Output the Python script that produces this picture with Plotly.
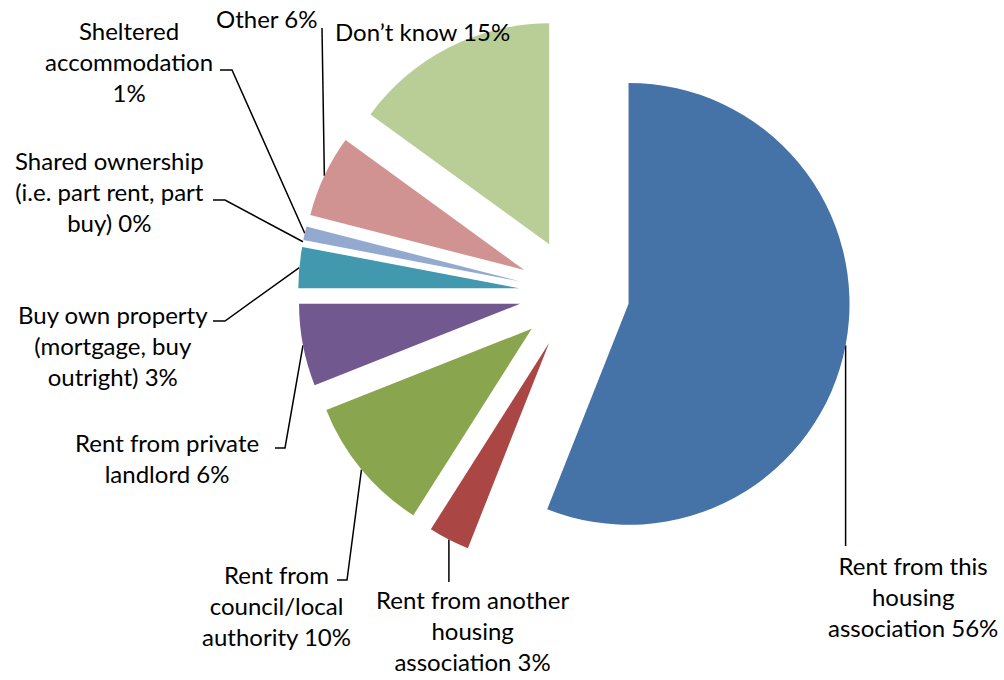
import math
import plotly.graph_objects as go

# Survey answers, clockwise from 12 o'clock
categories = [
    "Rent from this housing association",
    "Rent from another housing association",
    "Rent from council/local authority",
    "Rent from private landlord",
    "Buy own property (mortgage, buy outright)",
    "Shared ownership (i.e. part rent, part buy)",
    "Sheltered accommodation",
    "Other",
    "Don’t know",
]
percentages = [56, 3, 10, 6, 3, 0, 1, 6, 15]

# Label text broken into lines (percentage is appended to the last line)
label_lines = [
    ["Rent from this", "housing", "association"],
    ["Rent from another", "housing", "association"],
    ["Rent from", "council/local", "authority"],
    ["Rent from private", "landlord"],
    ["Buy own property", "(mortgage, buy", "outright)"],
    ["Shared ownership", "(i.e. part rent, part", "buy)"],
    ["Sheltered", "accommodation", ""],
    ["Other"],
    ["Don’t know"],
]

colors = ["#4572A7", "#AA4643", "#89A54E", "#71588F", "#4198AF",
          "#DB843D", "#93A9CF", "#D19392", "#B9CD96"]

# Label placement (pixel centre of each text block) and leader-line bends
label_pos = [(913, 596), (472, 630), (276, 605), (167, 458), (113, 345),
             (109, 191), (129, 61), (266, 18), (422, 31)]
leader_bends = [
    [(None, 546)],
    [(None, 582)],
    [(347, 580), (337, 580)],
    [(285, 448), (275, 448)],
    [(225, 321), (213, 321)],
    [(225, 200), (213, 200)],
    [(232, 70), (220, 70)],
    [(322, 28)],
    [],
]

W, H = 1004, 680
PULL = 0.25
DOM_X = [0.2969, 0.8471]
DOM_Y = [0.1621, 0.9746]

fig = go.Figure()
fig.add_trace(go.Pie(
    labels=categories,
    values=percentages,
    sort=False,
    direction="clockwise",
    rotation=0,
    pull=[PULL] * len(percentages),
    marker=dict(colors=colors, line=dict(width=0)),
    textinfo="none",
    hoverinfo="label+percent",
    showlegend=False,
    domain=dict(x=DOM_X, y=DOM_Y),
))

# Same pie geometry as plotly uses, in page pixels
box_w = W * (DOM_X[1] - DOM_X[0])
box_h = H * (DOM_Y[1] - DOM_Y[0])
radius = min(box_w, box_h) / (2 + 2 * PULL)
cx = W * (DOM_X[0] + DOM_X[1]) / 2
cy = H * (1 - DOM_Y[0]) - box_h / 2

total = sum(percentages)
cum = 0.0
annotations = []
for i, v in enumerate(percentages):
    mid = (cum + v / 2) / total
    cum += v
    theta = 2 * math.pi * mid
    reach = (1 + PULL) * radius
    ax = cx + reach * math.sin(theta)
    ay = cy - reach * math.cos(theta)

    pts = [(ax, ay)]
    for bx, by in leader_bends[i]:
        pts.append((ax if bx is None else bx, by))
    if len(pts) > 1:
        fig.add_trace(go.Scatter(
            x=[p[0] for p in pts], y=[p[1] for p in pts],
            mode="lines", line=dict(color="black", width=1.5),
            hoverinfo="skip", showlegend=False,
        ))

    lines = list(label_lines[i])
    lines[-1] = (lines[-1] + " " if lines[-1] else "") + f"{v}%"
    lx, ly = label_pos[i]
    annotations.append(dict(
        x=lx, y=ly, xref="x", yref="y",
        text="<br>".join(lines), showarrow=False,
        xanchor="center", yanchor="middle", align="center",
        font=dict(family="Lato, Carlito, sans-serif", size=24, color="#000000"),
    ))

fig.update_layout(
    width=W, height=H,
    margin=dict(l=0, r=0, t=0, b=0),
    paper_bgcolor="white", plot_bgcolor="rgba(0,0,0,0)",
    xaxis=dict(range=[0, W], visible=False, fixedrange=True, domain=[0, 1]),
    yaxis=dict(range=[H, 0], visible=False, fixedrange=True, domain=[0, 1]),
    annotations=annotations,
)

fig.write_html("out.html")
